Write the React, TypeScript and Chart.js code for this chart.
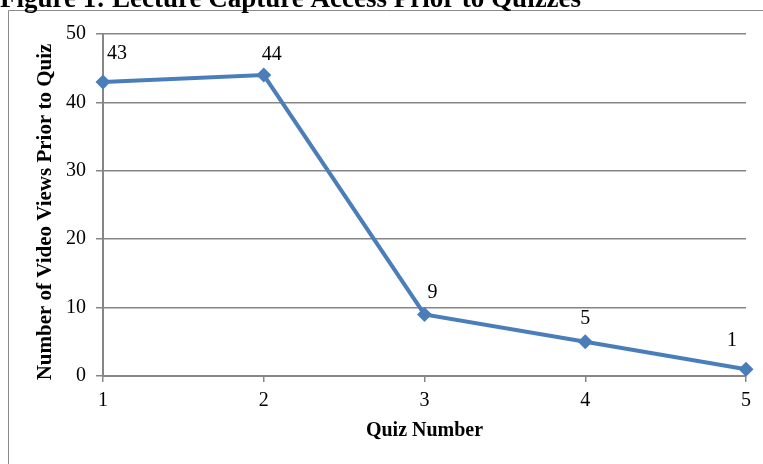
import React, { useEffect, useRef } from "react";
import { Chart, registerables } from "chart.js";

Chart.register(...registerables);

const pageTitle = "Figure 1: Lecture Capture Access Prior to Quizzes";
const quizNumbers = ["1", "2", "3", "4", "5"];
const videoViews = [43, 44, 9, 5, 1];
const yTitle = "Number of Video Views Prior to Quiz";
const xTitle = "Quiz Number";

// label offsets (style only)
const labelDx = [14, 8, 8, 0, -14];
const labelDy = [-28, -20, -22, -23, -28];

const SERIF = "'Liberation Serif', 'Times New Roman', serif";
const GRID = "#868686";
const BLUE = "#4a7ebb";

const extrasPlugin = {
  id: "extras",
  afterDraw(chart: any) {
    const ctx = chart.ctx;
    ctx.save();
    // outer frame
    ctx.strokeStyle = "#8a8a8a";
    ctx.lineWidth = 1;
    ctx.beginPath();
    ctx.moveTo(8.5, 470);
    ctx.lineTo(8.5, 10.5);
    ctx.lineTo(770, 10.5);
    ctx.stroke();
    // page title (clipped at top)
    ctx.fillStyle = "#000";
    ctx.font = `bold 27px ${SERIF}`;
    ctx.textAlign = "left";
    ctx.textBaseline = "alphabetic";
    ctx.fillText(pageTitle, 0, 7);
    // y title
    ctx.save();
    ctx.translate(46, 212);
    ctx.rotate(-Math.PI / 2);
    ctx.font = `bold 21px ${SERIF}`;
    ctx.textAlign = "center";
    ctx.textBaseline = "middle";
    ctx.fillText(yTitle, 0, 0);
    ctx.restore();
    // data labels
    const meta = chart.getDatasetMeta(0);
    ctx.font = `20px ${SERIF}`;
    ctx.textAlign = "center";
    ctx.textBaseline = "middle";
    meta.data.forEach((pt: any, i: number) => {
      ctx.fillText(String(videoViews[i]), pt.x + labelDx[i], pt.y + labelDy[i]);
    });
    ctx.restore();
  },
};

export default function App() {
  const ref = useRef<HTMLCanvasElement | null>(null);
  useEffect(() => {
    if (!ref.current) return;
    const chart = new Chart(ref.current, {
      type: "line",
      data: {
        labels: quizNumbers,
        datasets: [
          {
            data: videoViews,
            borderColor: BLUE,
            backgroundColor: BLUE,
            borderWidth: 4,
            pointStyle: "rectRot",
            pointRadius: 7.5,
            pointBorderWidth: 0,
            pointBackgroundColor: BLUE,
            tension: 0,
            clip: false as any,
          },
        ],
      },
      options: {
        animation: false,
        responsive: false,
        devicePixelRatio: 1,
        layout: { padding: { top: 34, right: 17, left: 0, bottom: 0 } },
        plugins: {
          legend: { display: false },
          tooltip: { enabled: false },
          title: { display: false },
        },
        scales: {
          x: {
            offset: false,
            afterFit: (s: any) => {
              s.height = 88;
            },
            grid: {
              drawOnChartArea: false,
              drawTicks: true,
              tickLength: 6,
              color: GRID,
              lineWidth: 1.5,
            },
            border: { display: true, color: GRID, width: 2 },
            ticks: {
              color: "#000",
              font: { family: SERIF, size: 20 },
              padding: 7,
              maxRotation: 0,
            },
            title: {
              display: true,
              text: xTitle,
              color: "#000",
              font: { family: SERIF, size: 20, weight: "bold" },
              padding: { top: 0, bottom: 21 },
            },
          },
          y: {
            min: 0,
            max: 50,
            afterFit: (s: any) => {
              s.width = 103;
            },
            ticks: {
              stepSize: 10,
              color: "#000",
              font: { family: SERIF, size: 20 },
              padding: 10,
            },
            grid: {
              color: GRID,
              lineWidth: 1.5,
              tickLength: 7,
              drawTicks: true,
            },
            border: { display: true, color: GRID, width: 2 },
          },
        },
      },
      plugins: [extrasPlugin],
    });
    return () => chart.destroy();
  }, []);
  return (
    <div style={{ position: "absolute", left: 0, top: 0, width: 763, height: 464, background: "#fff" }}>
      <canvas ref={ref} width={763} height={464} style={{ display: "block" }} />
    </div>
  );
}
